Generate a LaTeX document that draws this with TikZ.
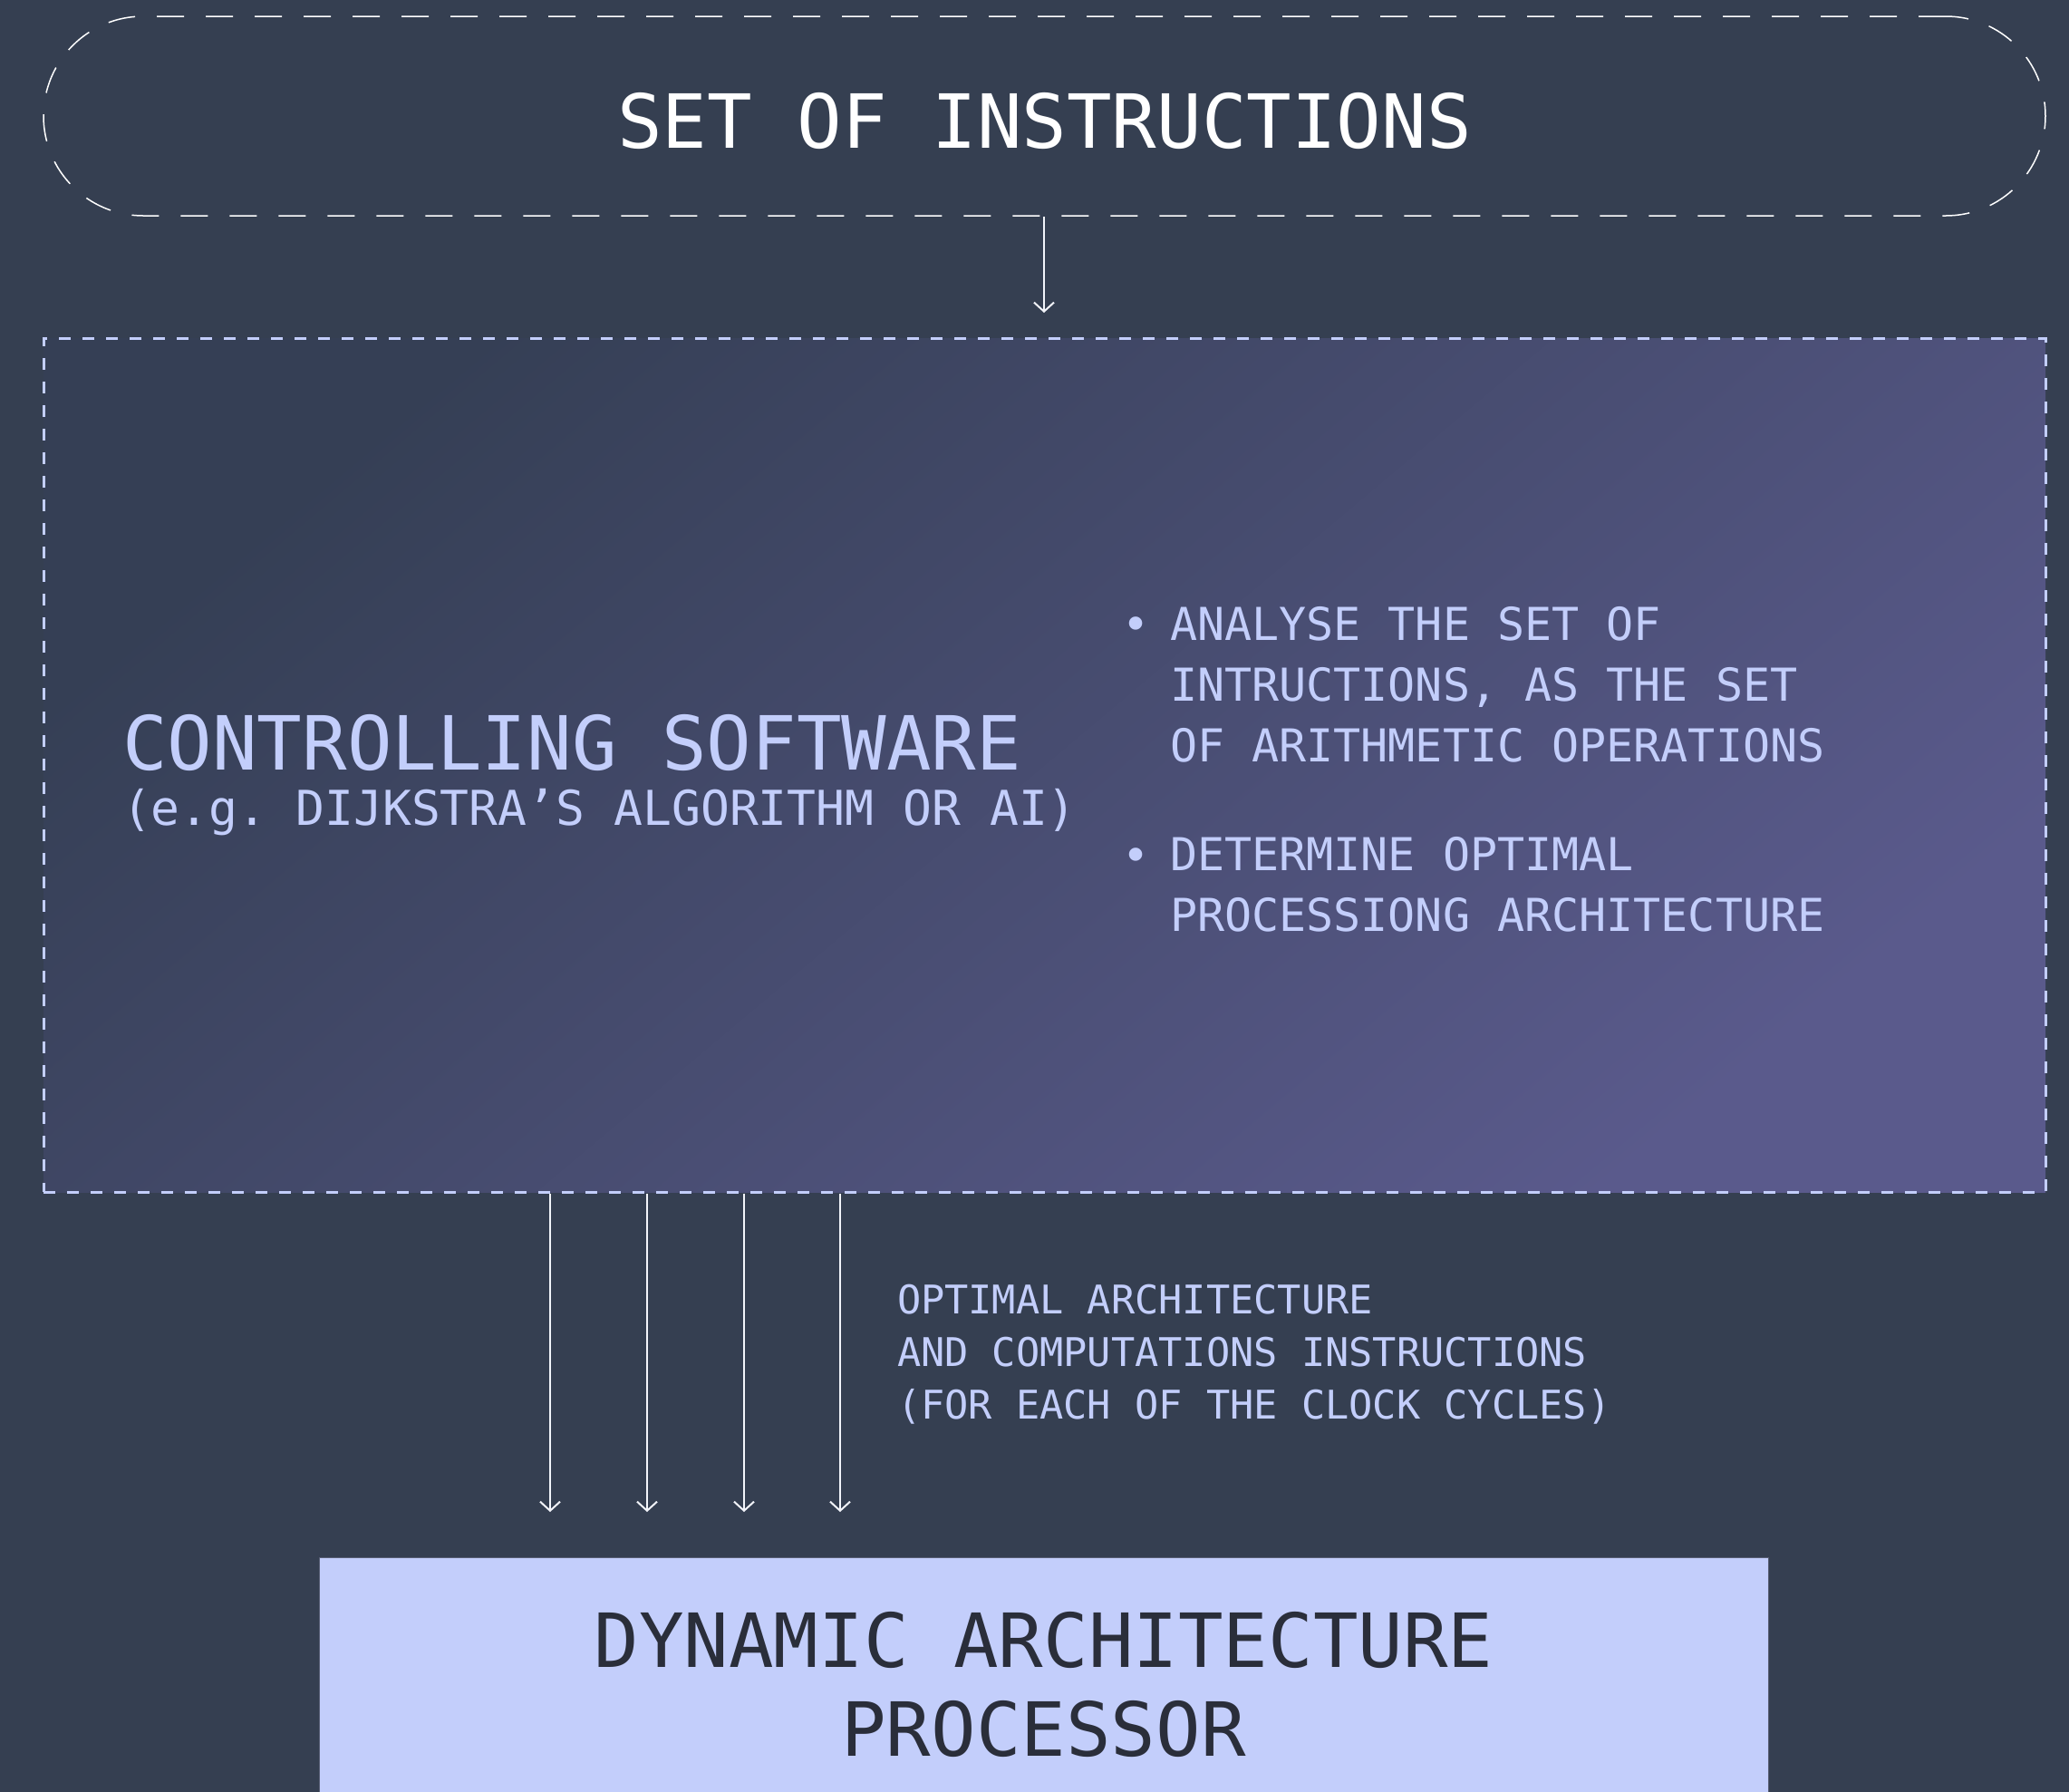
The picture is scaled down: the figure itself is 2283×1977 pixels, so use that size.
\documentclass[tikz,border=0pt]{standalone}
\usepackage{fontspec}
\setmonofont{DejaVu Sans Mono}
\usetikzlibrary{arrows.meta}
\definecolor{bg}{HTML}{353F51}
\definecolor{lav}{HTML}{C3CEFB}
\definecolor{gradA}{HTML}{353F55}
\definecolor{gradB}{HTML}{5A5A8C}
\definecolor{darktext}{HTML}{2A2E3A}
\definecolor{arrowc}{HTML}{F2F4FA}
\tikzset{
  bigfont/.style={font=\ttfamily\fontsize{41.2}{49}\selectfont},
  subfont/.style={font=\ttfamily\fontsize{26.5}{33}\selectfont},
  bulfont/.style={font=\ttfamily\fontsize{25}{33.5}\selectfont},
  lblfont/.style={font=\ttfamily\fontsize{21.8}{29}\selectfont},
  txt/.style={inner sep=0pt, outer sep=0pt},
  flow/.style={draw=arrowc, line width=1pt, -{Straight Barb[length=5pt,width=11pt,line width=1pt]}},
}
\begin{document}
\begin{tikzpicture}[x=0.5pt,y=-0.5pt]
\useasboundingbox (0,0) rectangle (2283,1977);
\clip (0,0) rectangle (2283,1977);
\fill[bg] (0,0) rectangle (2283,1977);

% top rounded box
\node[draw=white, line width=0.75pt, dash pattern=on 15pt off 12pt,
      rounded corners=55pt, minimum width=1104.5pt, minimum height=110pt,
      inner sep=0pt] (top) at (1152.5,128) {};
\node[txt, bigfont, text=white, anchor=base] (toptxt) at (1152.5,163) {SET OF INSTRUCTIONS};

% middle gradient box
\node[top color=gradA, bottom color=gradB, shading angle=40,
      draw=lav, line width=1.5pt, dash pattern=on 6.5pt off 6.5pt,
      minimum width=1104.5pt, minimum height=471pt, inner sep=0pt] (mid) at (1152.5,844) {};

\node[txt, bigfont, text=lav, anchor=base west] (cs) at (135,849) {CONTROLLING SOFTWARE};
\node[txt, subfont, text=lav, anchor=base west] (cssub) at (135,910) {(e.g. DIJKSTRA’S ALGORITHM OR AI)};

\node[txt, bulfont, text=lav, anchor=base west] (b1) at (1238,706) {•};
\node[txt, bulfont, text=lav, anchor=base west, align=left] (t1) at (1291,840)
  {ANALYSE THE SET OF\\INTRUCTIONS, AS THE SET\\OF ARITHMETIC OPERATIONS};
\node[txt, bulfont, text=lav, anchor=base west] (b2) at (1238,961) {•};
\node[txt, bulfont, text=lav, anchor=base west, align=left] (t2) at (1291,1027)
  {DETERMINE OPTIMAL\\PROCESSIONG ARCHITECTURE};

% label
\node[txt, lblfont, text=lav, anchor=base west, align=left] (lbl) at (990,1565)
  {OPTIMAL ARCHITECTURE\\AND COMPUTATIONS INSTRUCTIONS\\(FOR EACH OF THE CLOCK CYCLES)};

% bottom box
\node[fill=lav, draw=darktext!70!lav, line width=0.5pt, minimum width=799.5pt, minimum height=141pt,
      inner sep=0pt] (proc) at (1151.5,1859) {};
\node[txt, bigfont, text=darktext, anchor=base, align=center] (proctxt) at (1151.5,1937)
  {DYNAMIC ARCHITECTURE\\PROCESSOR};

% connectors
\coordinate (e0) at (1152,345);
\draw[flow] (top.south -| e0) -- (e0);

\coordinate (e1) at (607,1668);
\coordinate (e2) at (714,1668);
\coordinate (e3) at (821,1668);
\coordinate (e4) at (927,1668);
\foreach \e in {e1,e2,e3,e4}{
  \draw[flow] (mid.south -| \e) -- (\e);
}
\end{tikzpicture}
\end{document}
